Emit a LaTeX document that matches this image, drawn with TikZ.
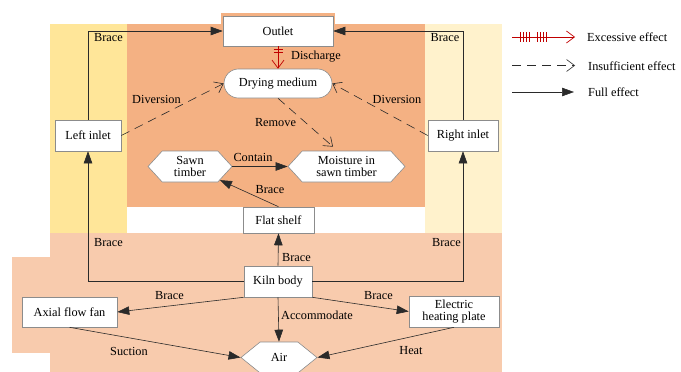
\documentclass[tikz,border=0pt]{standalone}
\usepackage{fontspec}
\setmainfont{Liberation Serif}
\usetikzlibrary{arrows.meta,shapes.symbols,calc}
\definecolor{cyl}{HTML}{FFE699}
\definecolor{cyr}{HTML}{FFF2CC}
\definecolor{corg}{HTML}{F4B183}
\definecolor{cpch}{HTML}{F8CBAD}
\definecolor{cred}{HTML}{C00000}
\definecolor{cline}{HTML}{2A2A2A}
\definecolor{cbord}{HTML}{8C8C8C}
\tikzset{
  box/.style={draw=cbord, fill=white, rectangle, inner sep=1pt, align=center, line width=0.6pt},
  hexa/.style={draw=cbord, fill=white, signal, signal to=west and east, inner sep=1pt, align=center, line width=0.6pt},
  lbl/.style={inner sep=0pt, text=black},
  full/.style={draw=cline, line width=0.6pt, -{Triangle[length=12pt,width=8.5pt]}},
  insuf/.style={draw=cline, line width=0.6pt, dash pattern=on 9pt off 6pt, -{Straight Barb[length=8pt,width=12pt,line width=0.6pt]}},
  exces/.style={draw=cred, line width=0.7pt, -{Straight Barb[length=8pt,width=12pt,line width=0.7pt]}},
  tick/.style={draw=cred, line width=0.7pt},
}
\begin{document}
\begin{tikzpicture}[x=1pt,y=-1pt,font=\fontsize{12.3}{13.5}\selectfont]
\useasboundingbox (0,0) rectangle (681,372);
% backgrounds
\fill[cyl] (50,24) rectangle (127,233);
\fill[cyr] (425,24) rectangle (502,233);
\fill[corg] (127,24) rectangle (425,207);
\fill[corg] (221,13) rectangle (335,24);
\fill[cpch] (50,233) rectangle (502,372);
\fill[cpch] (12,257) rectangle (50,353);
% nodes
\node[box, minimum width=110pt, minimum height=30pt] (outlet) at (278,31) {Outlet};
\node[box, rounded corners=14.5pt, minimum width=108pt, minimum height=29pt] (dry) at (278,83.5) {Drying medium};
\node[box, minimum width=66pt, minimum height=31pt] (linlet) at (88,135.5) {Left inlet};
\node[box, minimum width=70pt, minimum height=31pt] (rinlet) at (463,135.5) {Right inlet};
\node[hexa, signal pointer angle=95, minimum width=84pt, minimum height=31pt] (sawn) at (190,166.5) {Sawn\\[-2pt]timber};
\node[hexa, signal pointer angle=95, minimum width=117pt, minimum height=31pt] (moist) at (346.5,166.5) {Moisture in\\[-2pt]sawn timber};
\node[box, minimum width=71pt, minimum height=26pt] (shelf) at (278.5,220) {Flat shelf};
\node[box, minimum width=68pt, minimum height=31pt] (kiln) at (278,281.5) {Kiln body};
\node[box, minimum width=95pt, minimum height=30pt] (fan) at (69.5,312) {Axial flow fan};
\node[box, minimum width=90pt, minimum height=31pt] (plate) at (454,311.5) {Electric\\[-2pt]heating plate};
\node[hexa, signal pointer angle=78, minimum width=76pt, minimum height=31pt] (air) at (279,357.5) {Air};
% connectors
\draw[full] (linlet.north) |- (outlet.west);
\draw[full] (rinlet.north) |- (outlet.east);
\draw[exces] (outlet.south) -- (dry.north);
\draw[tick] ([xshift=-4.5pt,yshift=-3.5pt]outlet.south) -- ([xshift=4.5pt,yshift=-3.5pt]outlet.south);
\draw[tick] ([xshift=-4.5pt,yshift=-6.5pt]outlet.south) -- ([xshift=4.5pt,yshift=-6.5pt]outlet.south);
\draw[insuf] (linlet.east) -- (dry.west);
\draw[insuf] (rinlet.west) -- (dry.east);
\draw[insuf] (dry.south) -- ([xshift=-13.5pt,yshift=4pt]moist.north);
\draw[full] (sawn.east) -- (moist.west);
\draw[full] (shelf.north) -- (sawn);
\draw[full] (kiln.north) -- (shelf.south);
\draw[full] (kiln.west) -| (linlet.south);
\draw[full] (kiln.east) -| (rinlet.south);
\draw[full] (kiln.south west) -- (fan.east);
\draw[full] (kiln.south east) -- (plate.west);
\draw[full] (kiln.south) -- (air.north);
\draw[full] (fan.south) -- (air.west);
\draw[full] (plate.south) -- (air.east);
% labels
\node[lbl] (l1) at (108.5,38) {Brace};
\node[lbl] (l2) at (445,38) {Brace};
\node[lbl] (l3) at (316,57) {Discharge};
\node[lbl] (l4) at (156.5,99) {Diversion};
\node[lbl] (l5) at (397,99) {Diversion};
\node[lbl] (l6) at (275.5,123) {Remove};
\node[lbl] (l7) at (253,157) {Contain};
\node[lbl] (l8) at (270,190) {Brace};
\node[lbl] (l9) at (108.5,243) {Brace};
\node[lbl] (l10) at (446.5,243) {Brace};
\node[lbl] (l11) at (296.5,258) {Brace};
\node[lbl] (l12) at (169.5,296) {Brace};
\node[lbl] (l13) at (378.5,296) {Brace};
\node[lbl] (l14) at (317,315.5) {Accommodate};
\node[lbl] (l15) at (129,351) {Suction};
\node[lbl] (l16) at (411,351) {Heat};
% legend
\coordinate (e1) at (512,37); \coordinate (e2) at (575,37);
\draw[exces] (e1) -- (e2);
\foreach \xx in {520,523,526,529,537,540,543,546}
  \draw[tick] (\xx,32) -- (\xx,42);
\node[lbl, anchor=west] (t1) at (587,37) {Excessive effect};
\coordinate (i1) at (512,65.5); \coordinate (i2) at (575,65.5);
\draw[insuf] (i1) -- (i2);
\node[lbl, anchor=west] (t2) at (588,66) {Insufficient effect};
\coordinate (f1) at (512,92); \coordinate (f2) at (574,92);
\draw[full] (f1) -- (f2);
\node[lbl, anchor=west] (t3) at (588,92) {Full effect};
\end{tikzpicture}
\end{document}
